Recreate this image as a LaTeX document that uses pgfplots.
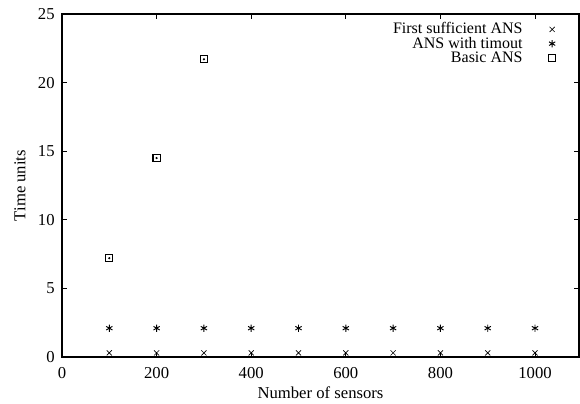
\documentclass[border=0pt]{standalone}
\usepackage{fontspec}
\setmainfont{Liberation Serif}
\usepackage{pgfplots}
\pgfplotsset{compat=1.18}
\begin{document}
\begin{tikzpicture}[x=1pt,y=1pt]
\begin{axis}[
  at={(0,0)}, anchor=south west,
  scale only axis,
  width=387.75pt, height=257.25pt,
  xmin=0, xmax=1093, ymin=0, ymax=25,
  xtick={0,200,400,600,800,1000},
  ytick={0,5,10,15,20,25},
  tick align=inside,
  major tick length=4pt,
  tick style={black, line width=0.6pt},
  axis line style={line width=0.8pt},
  tick label style={font=\fontsize{12.5}{13}\selectfont},
  /pgf/number format/assume math mode=true,
  /pgf/number format/1000 sep={},
  xticklabel style={yshift=-4pt},
  yticklabel style={xshift=-2pt},
  xlabel={Number of sensors},
  ylabel={Time units},
  label style={font=\fontsize{12.5}{13}\selectfont},
  xlabel style={at={(0.5,0)}, anchor=center, yshift=-27pt},
  ylabel style={at={(0,0.5)}, anchor=center, xshift=0pt, yshift=31.5pt},
  legend style={draw=none, fill=none, at={(1,1)}, anchor=north east,
    font=\fontsize{12}{13}\selectfont, row sep=0pt, xshift=-14.25pt, yshift=-4pt,
    nodes={inner xsep=19.5pt, inner ysep=0pt, text height=8.7pt, text depth=2pt}},
  legend plot pos=right,
  legend cell align=right,
]
\addplot[only marks, mark=x, mark size=2.7pt, line width=0.5pt] coordinates {
(100,0.3) (200,0.3) (300,0.3) (400,0.3) (500,0.3) (600,0.3) (700,0.3) (800,0.3) (900,0.3) (1000,0.3)};
\addlegendentry{First sufficient ANS}
\addplot[only marks, mark=asterisk, mark size=2.7pt, line width=0.7pt] coordinates {
(100,2.1) (200,2.1) (300,2.1) (400,2.1) (500,2.1) (600,2.1) (700,2.1) (800,2.1) (900,2.1) (1000,2.1)};
\addlegendentry{ANS with timout}
\addplot[only marks, mark=square, mark size=2.7pt, line width=0.8pt] coordinates {
(100,7.2) (200,14.5) (300,21.7)};
\addlegendentry{Basic ANS}
\addplot[only marks, mark=*, mark size=0.6pt, forget plot] coordinates {
(100,7.2) (200,14.5) (300,21.7)};
\end{axis}
\pgfresetboundingbox
\path (-46.5pt,-34.5pt) rectangle (388.5pt,267.75pt);
\end{tikzpicture}
\end{document}
